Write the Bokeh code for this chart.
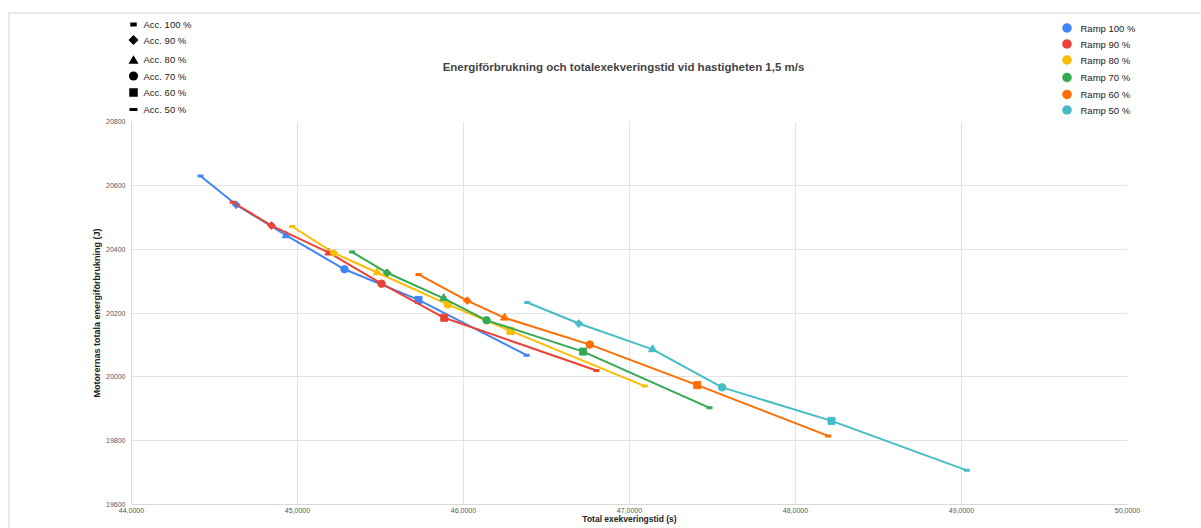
import math
from bokeh.plotting import figure
from bokeh.models import Range1d, FixedTicker, CustomJSTickFormatter, ColumnDataSource
from bokeh.core.properties import value
from bokeh.embed import file_html
from bokeh.resources import INLINE

# ---------------- data ----------------
title = "Energiförbrukning och totalexekveringstid vid hastigheten 1,5 m/s"
ramps = ["Ramp 100 %", "Ramp 90 %", "Ramp 80 %", "Ramp 70 %", "Ramp 60 %", "Ramp 50 %"]
accs = ["Acc. 100 %", "Acc. 90 %", "Acc. 80 %", "Acc. 70 %", "Acc. 60 %", "Acc. 50 %"]

time_r100 = [44.416, 44.631, 44.932, 45.283, 45.729, 46.380]
energy_r100 = [20629, 20539, 20443, 20337, 20241, 20068]
time_r90 = [44.610, 44.843, 45.189, 45.506, 45.884, 46.801]
energy_r90 = [20547, 20474, 20389, 20292, 20185, 20020]
time_r80 = [44.968, 45.219, 45.480, 45.905, 46.283, 47.092]
energy_r80 = [20471, 20388, 20327, 20227, 20144, 19971]
time_r70 = [45.329, 45.540, 45.881, 46.139, 46.721, 47.482]
energy_r70 = [20391, 20326, 20246, 20177, 20079, 19903]
time_r60 = [45.729, 46.022, 46.247, 46.761, 47.408, 48.197]
energy_r60 = [20321, 20239, 20185, 20101, 19974, 19815]
time_r50 = [46.384, 46.695, 47.139, 47.558, 48.217, 49.032]
energy_r50 = [20233, 20167, 20086, 19967, 19862, 19707]

times = [time_r100, time_r90, time_r80, time_r70, time_r60, time_r50]
energies = [energy_r100, energy_r90, energy_r80, energy_r70, energy_r60, energy_r50]

x_ticks = [44, 45, 46, 47, 48, 49, 50]
y_ticks = [19600, 19800, 20000, 20200, 20400, 20600, 20800]

# ---------------- styles ----------------
colors = ["#4285F4", "#EA4335", "#FBBC04", "#34A853", "#FF6D01", "#46BDC6"]
FONT = "Liberation Sans"
W, H = 1201, 528
FL, FR, FT, FB = 131, 1127, 121, 504   # frame edges in page pixels

# marker style per acceleration level (Acc. 100 % ... Acc. 50 %)
acc_markers = ["dash", "square", "triangle", "circle", "square", "dash"]
acc_angles = [0, math.pi / 4, 0, 0, 0, 0]
acc_sizes = [6, 5.5, 8, 7.5, 7, 6]
acc_lw = [3, 1, 1, 1, 1, 3]
# legend swatch style: (shape, size, thickness)
leg_shapes = ["dash", "diamond", "triangle", "circle", "square", "dash"]
leg_sizes = [6.5, 10, 10, 9, 8.5, 8]
leg_thick = [4, 0, 0, 0, 0, 3]
# legend / header layout (page pixels)
acc_leg_x, acc_txt_x = 133, 143
acc_leg_y = [24, 39.5, 59, 75.5, 92, 109]
ramp_leg_x, ramp_txt_x = 1066.5, 1080
ramp_leg_y = [27.5, 43.5, 59.5, 77, 94, 109.5]
ramp_dot = 9.5
title_x, title_y = 623, 66

# ---------------- figure ----------------
p = figure(width=W, height=H, output_backend="svg", toolbar_location=None,
           x_range=Range1d(44, 50), y_range=Range1d(19600, 20800),
           min_border_left=FL, min_border_right=W - FR, min_border_top=FT,
           min_border_bottom=H - FB, background_fill_color="white",
           border_fill_color="white", outline_line_color=None)
# pixel-space ranges for the header (title, legends, container border)
p.extra_x_ranges = {"px": Range1d(FL, FR)}
p.extra_y_ranges = {"py": Range1d(FB, FT)}
PX = dict(x_range_name="px", y_range_name="py", level="overlay")

p.xaxis.ticker = FixedTicker(ticks=x_ticks)
p.yaxis.ticker = FixedTicker(ticks=y_ticks)
p.xaxis.formatter = CustomJSTickFormatter(code="return tick.toFixed(4).replace('.', ',');")
p.xaxis.axis_label = "Total exekveringstid (s)"
p.yaxis.axis_label = "Motorernas totala energiförbrukning (J)"
for ax in (p.xaxis[0], p.yaxis[0]):
    ax.axis_line_color = "#d9d9d9"
    ax.major_tick_line_color = None
    ax.minor_tick_line_color = None
    ax.major_tick_out = 0
    ax.major_tick_in = 0
    ax.minor_tick_out = 0
    ax.minor_tick_in = 0
    ax.major_label_text_font = FONT
    ax.major_label_text_font_size = "7px"
    ax.major_label_text_color = "#555555"
    ax.axis_label_text_font = FONT
    ax.axis_label_text_font_style = "bold"
    ax.axis_label_text_color = "#222222"
p.xaxis.axis_label_text_font_size = "8.5px"
p.yaxis.axis_label_text_font_size = "9px"
p.xaxis.major_label_standoff = 3
p.xaxis.axis_label_standoff = -2
p.yaxis.major_label_standoff = 6
p.yaxis.axis_label_standoff = 1

p.xgrid.grid_line_color = "#e3e3e3"
p.ygrid.grid_line_color = "#e3e3e3"
p.xgrid.ticker = FixedTicker(ticks=x_ticks)
p.ygrid.ticker = FixedTicker(ticks=y_ticks)

for t, e, c in zip(times, energies, colors):
    src = ColumnDataSource(dict(x=t, y=e, marker=acc_markers, angle=acc_angles,
                                size=acc_sizes, lw=acc_lw))
    p.line("x", "y", source=src, line_color=c, line_width=2)
    p.scatter("x", "y", source=src, marker="marker", angle="angle", size="size",
              fill_color=c, line_color=c, line_width="lw")

# ---------------- header: container border, title, legends ----------------
p.line([8, W], [12.5, 12.5], line_color="#d4d4d4", line_width=1, **PX)
p.line([8.5, 8.5], [12, H], line_color="#d4d4d4", line_width=1, **PX)

p.text(x=[title_x], y=[title_y], text=[title], text_font=value(FONT),
       text_font_size="11.5px", text_font_style="bold", text_color="#444444",
       text_align="center", text_baseline="middle", **PX)


def swatch(shape, cx, cy, size, thick, color):
    """Legend swatch drawn as a thick stroked path in header pixel space."""
    join, cap = "miter", "butt"
    if shape == "dash":
        xs, ys, w = [cx - size / 2, cx + size / 2], [cy, cy], thick
    elif shape == "square":
        xs, ys, w = [cx - size / 2, cx + size / 2], [cy, cy], size
    elif shape == "circle":
        xs, ys, w, cap = [cx - 0.05, cx + 0.05], [cy, cy], size, "round"
    elif shape == "triangle":
        s3 = math.sqrt(3)
        r_in = size / (2 * s3)
        r0 = 0.3
        gy = cy + (size * s3 / 2) / 6
        pts = [(cx, gy - 2 * r0), (cx - s3 * r0, gy + r0), (cx + s3 * r0, gy + r0)]
        pts = pts + pts[:2]
        xs, ys = [q[0] for q in pts], [q[1] for q in pts]
        w = 2 * (r_in - r0)
    else:  # diamond
        d0 = 0.4
        pts = [(cx, cy - d0), (cx + d0, cy), (cx, cy + d0), (cx - d0, cy)]
        pts = pts + pts[:2]
        xs, ys = [q[0] for q in pts], [q[1] for q in pts]
        w = 2 * (size / (2 * math.sqrt(2)) - d0 / math.sqrt(2))
    p.line(xs, ys, line_color=color, line_width=w, line_join=join, line_cap=cap, **PX)


for shape, y, s, th in zip(leg_shapes, acc_leg_y, leg_sizes, leg_thick):
    swatch(shape, acc_leg_x, y, s, th, "black")
for y, c in zip(ramp_leg_y, colors):
    swatch("circle", ramp_leg_x, y, ramp_dot, 0, c)

acc_src = ColumnDataSource(dict(x=[acc_txt_x] * len(accs), y=acc_leg_y, label=accs))
p.text(x="x", y="y", text="label", source=acc_src, text_font=value(FONT),
       text_font_size="9.5px", text_color="#222222", text_baseline="middle", **PX)
ramp_src = ColumnDataSource(dict(x=[ramp_txt_x] * len(ramps), y=ramp_leg_y, label=ramps))
p.text(x="x", y="y", text="label", source=ramp_src, text_font=value(FONT),
       text_font_size="9.5px", text_color="#222222", text_baseline="middle", **PX)

open("out.html", "w").write(file_html(p, INLINE))
